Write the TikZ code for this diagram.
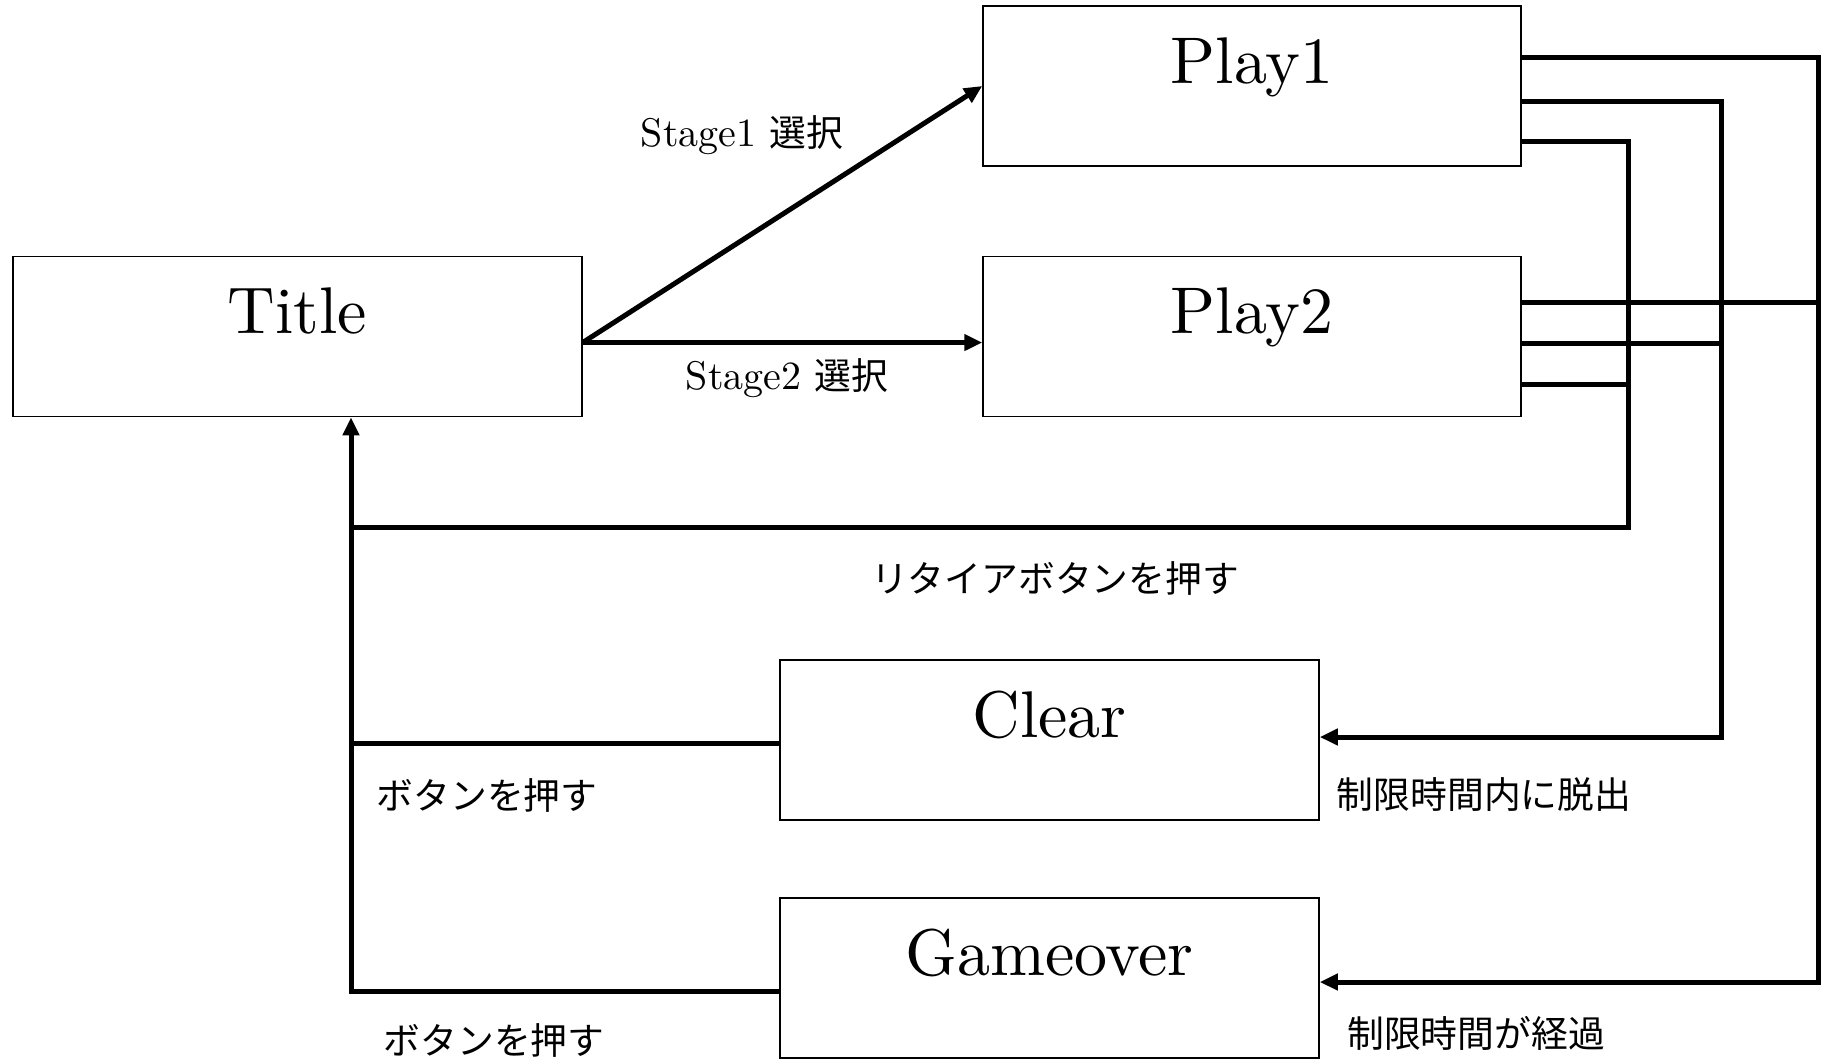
\documentclass[tikz,border=0pt]{standalone}
\usepackage{fontspec}
\setmainfont{lmroman10-regular}[Extension=.otf]
\newfontfamily\jpfont{Noto Sans CJK JP}[Scale=0.92]
\usetikzlibrary{arrows.meta}

\begin{document}
\begin{tikzpicture}[x=1pt,y=-1pt]
\tikzstyle{every node}=[]
\tikzstyle{state}=[draw, line width=1.5pt, inner sep=0pt, minimum width=538pt, text height=77pt, text depth=83pt, font=\fontsize{66}{72}\selectfont]
\tikzstyle{wire}=[line width=5pt]
\tikzstyle{arrow}=[wire, -{Triangle[length=18pt,width=16pt]}]
\tikzstyle{tag}=[inner sep=0pt, font=\fontsize{40}{44}\selectfont]

\useasboundingbox (0,0) rectangle (1821,1061);

\node[state, minimum width=569pt] (title) at (297.5, 336.5) {Title};
\node[state] (play1) at (1252, 86) {Play1};
\node[state] (play2) at (1252, 336.5) {Play2};
\node[state, minimum width=539pt] (clear) at (1049.5, 740) {Clear};
\node[state, minimum width=539pt] (gameover) at (1049.5, 978) {Gameover};

\coordinate (outer) at (1818, 982);
\coordinate (middle) at (1721, 737);
\coordinate (inner) at (1628, 527);
\coordinate (back) at (351, 527);

\draw[arrow] ([yshift=-6pt]title.east) -- (play1.west);
\draw[arrow] ([yshift=-6pt]title.east) -- ([yshift=-6pt]play2.west);

\draw[arrow] ([yshift=29pt]play1.east) -| (outer) -- (gameover.east |- outer);
\draw[arrow] ([yshift=-15pt]play1.east) -| (middle) -- (clear.east |- middle);
\draw[arrow] ([yshift=-55pt]play1.east) -| (inner) -- (back) -- (title.south -| back);
\draw[wire] ([yshift=34.5pt]play2.east) -- ([yshift=34.5pt]play2.east -| outer);
\draw[wire] ([yshift=-6.5pt]play2.east) -- ([yshift=-6.5pt]play2.east -| middle);
\draw[wire] ([yshift=-47.5pt]play2.east) -- ([yshift=-47.5pt]play2.east -| inner);
\draw[wire] ([yshift=-3pt]clear.west) -- ([yshift=-3pt]clear.west -| back);
\draw[wire] ([yshift=-13pt]gameover.west) -| (back);

\node[tag] (stage1) at (742, 135) {Stage1 {\jpfont 選択}};
\node[tag] (stage2) at (787, 378) {Stage2 {\jpfont 選択}};
\node[tag] (retire) at (1055, 578) {\jpfont リタイアボタンを押す};
\node[tag] (push1) at (487, 795) {\jpfont ボタンを押す};
\node[tag] (push2) at (494, 1040) {\jpfont ボタンを押す};
\node[tag] (escape) at (1484, 795) {\jpfont 制限時間内に脱出};
\node[tag] (timeout) at (1476, 1033) {\jpfont 制限時間が経過};

\end{tikzpicture}
\end{document}
